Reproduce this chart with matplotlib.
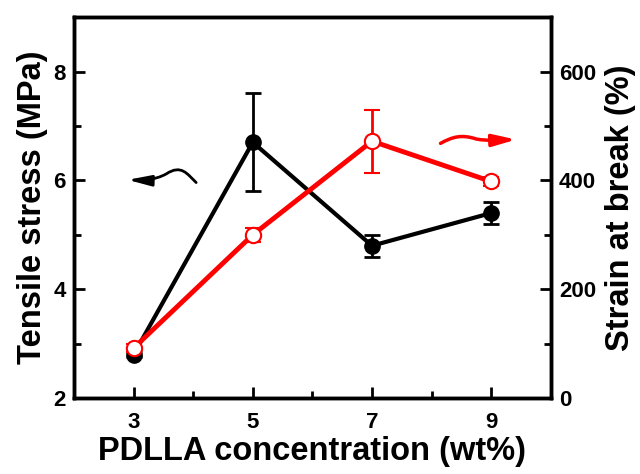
import matplotlib
matplotlib.use("Agg")
import matplotlib.pyplot as plt
from matplotlib.path import Path
from matplotlib.patches import FancyArrowPatch

plt.rcParams['font.family'] = ['Liberation Sans', 'DejaVu Sans']
plt.rcParams['font.weight'] = 'bold'

conc = [3, 5, 7, 9]
stress = [2.8, 6.7, 4.8, 5.4]
stress_err = [0.05, 0.9, 0.2, 0.2]
strain = [92, 300, 472, 398]
strain_err = [8, 13, 58, 8]

fig = plt.figure(figsize=(6.4, 4.74), dpi=100)
ax = fig.add_axes([0.1156, 0.160, 0.745, 0.804])
ax2 = ax.twinx()

ax.errorbar(conc, stress, yerr=stress_err, color='black', lw=3, marker='o',
            ms=11, mfc='black', mec='black', capsize=6, capthick=2, elinewidth=2, zorder=3)
ax2.errorbar(conc, strain, yerr=strain_err, color='red', lw=3.5, marker='o',
             ms=11, mfc='white', mec='red', mew=1.5, capsize=6, capthick=2, elinewidth=2, zorder=3)

ax.set_xlim(2, 10)
ax.set_ylim(2, 9)
ax2.set_ylim(0, 700)
ax.set_xticks([3, 5, 7, 9])
ax.set_xticks([4, 6, 8], minor=True)
ax.set_yticks([2, 4, 6, 8])
ax.set_yticks([3, 5, 7], minor=True)
ax2.set_yticks([0, 200, 400, 600])
ax2.set_yticks([100, 300, 500], minor=True)

for a in (ax, ax2):
    for s in a.spines.values():
        s.set_linewidth(2.5)
    a.tick_params(which='major', direction='in', length=8, width=2, labelsize=16, pad=6)
    a.tick_params(which='minor', direction='in', length=5, width=2)
ax.tick_params(axis='x', which='both', top=False)
ax.tick_params(axis='x', pad=10)

ax.set_xlabel('PDLLA concentration (wt%)', fontsize=23.5, fontweight='bold', labelpad=2)
ax.set_ylabel('Tensile stress (MPa)', fontsize=23.5, fontweight='bold', labelpad=4)
ax2.set_ylabel('Strain at break (%)', fontsize=23.5, fontweight='bold', labelpad=6)

# curved arrows
bpath = Path([(4.05, 5.96), (3.9, 6.12), (3.8, 6.3), (3.55, 6.12),
              (3.35, 6.0), (3.15, 6.0), (2.9, 6.01)],
             [Path.MOVETO, Path.CURVE4, Path.CURVE4, Path.CURVE4,
              Path.CURVE4, Path.CURVE4, Path.CURVE4])
ax.add_patch(FancyArrowPatch(path=bpath, arrowstyle='-|>,head_length=14,head_width=3.2',
                             color='black', lw=2, mutation_scale=1))
rpath = Path([(8.15, 6.68), (8.35, 6.8), (8.5, 6.85), (8.75, 6.76),
              (8.95, 6.72), (9.15, 6.74), (9.42, 6.75)],
             [Path.MOVETO, Path.CURVE4, Path.CURVE4, Path.CURVE4,
              Path.CURVE4, Path.CURVE4, Path.CURVE4])
ax.add_patch(FancyArrowPatch(path=rpath, arrowstyle='-|>,head_length=14,head_width=3.6',
                             color='red', lw=2.5, mutation_scale=1))

fig.savefig('out.png', dpi=100)
